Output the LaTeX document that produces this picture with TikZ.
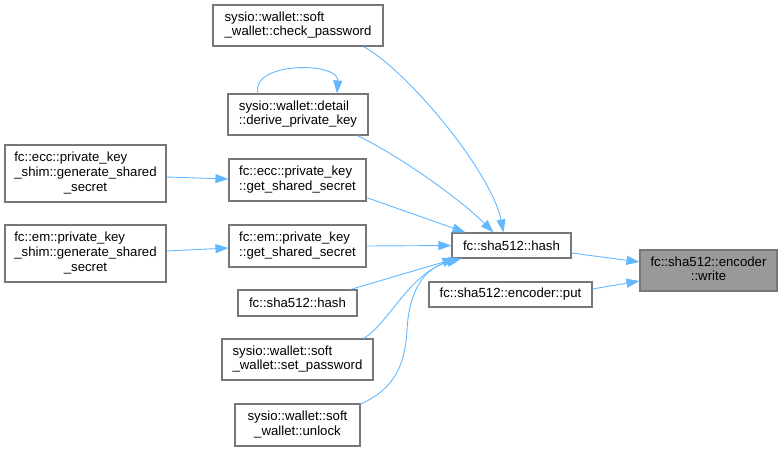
\documentclass[tikz,border=0pt]{standalone}
\usepackage{fontspec}
\setmainfont{Liberation Sans}
\usetikzlibrary{arrows.meta}
\definecolor{edgeblue}{HTML}{63B8FF}
\definecolor{boxborder}{HTML}{777777}
\definecolor{curfill}{HTML}{999999}
\newcommand{\twol}[2]{\begin{tabular}{@{}l@{}}#1\\\multicolumn{1}{@{}c@{}}{#2}\end{tabular}}
\newcommand{\threel}[3]{\begin{tabular}{@{}l@{}}#1\\#2\\\multicolumn{1}{@{}c@{}}{#3}\end{tabular}}
\begin{document}
\begin{tikzpicture}[x=1pt,y=-1pt,
  fnbox/.style={draw=boxborder,line width=1.1pt,fill=white,inner sep=0pt,
    font=\fontsize{13.2}{14.6}\selectfont},
  curbox/.style={fnbox,fill=curfill},
  edge/.style={draw=edgeblue,line width=0.9pt,-{Triangle[length=13pt,width=9pt]}}]
\useasboundingbox (0,0) rectangle (782,451);
% nodes
\node[fnbox,minimum width=170pt,minimum height=41pt] (check) at (298,25.5) {\twol{sysio::wallet::soft}{\_wallet::check\_password}};
\node[fnbox,minimum width=140pt,minimum height=41pt] (derive) at (298,114.5) {\twol{sysio::wallet::detail}{::derive\_private\_key}};
\node[fnbox,minimum width=137pt,minimum height=42pt] (eccget) at (297.5,180) {\twol{fc::ecc::private\_key}{::get\_shared\_secret}};
\node[fnbox,minimum width=137pt,minimum height=42pt] (emget) at (297.5,246) {\twol{fc::em::private\_key}{::get\_shared\_secret}};
\node[fnbox,minimum width=119pt,minimum height=26pt] (hashL) at (297.5,303) {fc::sha512::hash};
\node[fnbox,minimum width=151pt,minimum height=41pt] (setpw) at (297.5,359.5) {\twol{sysio::wallet::soft}{\_wallet::set\_password}};
\node[fnbox,minimum width=125pt,minimum height=42pt] (unlock) at (297.5,425) {\twol{sysio::wallet::soft}{\_wallet::unlock}};
\node[fnbox,minimum width=161pt,minimum height=57pt] (eccgen) at (85.5,173.5) {\threel{fc::ecc::private\_key}{\_shim::generate\_shared}{\_secret}};
\node[fnbox,minimum width=161pt,minimum height=57pt] (emgen) at (85.5,253.5) {\threel{fc::em::private\_key}{\_shim::generate\_shared}{\_secret}};
\node[fnbox,minimum width=119pt,minimum height=25pt] (hashC) at (511.5,245.5) {fc::sha512::hash};
\node[fnbox,minimum width=163pt,minimum height=25pt] (put) at (510.5,294.5) {fc::sha512::encoder::put};
\node[curbox,minimum width=137pt,minimum height=41pt] (write) at (708.5,270.5) {\twol{fc::sha512::encoder}{::write}};
% edges
\draw[edge] ([xshift=-20pt]check.south east) .. controls +(45,25) and +(-12,-60) .. ([xshift=-8pt]hashC.north);
\draw[edge] ([xshift=-11pt]derive.south east) .. controls +(50,25) and +(-30,-30) .. ([xshift=-18pt]hashC.north);
\draw[edge] ([yshift=4pt]eccget.south east) -- ([xshift=-46pt]hashC.north);
\draw[edge] (emget.east) -- (hashC.west);
\draw[edge] ([xshift=-7pt]hashL.north east) -- ([xshift=4pt]hashC.south west);
\draw[edge] ([xshift=-10pt]setpw.north east) .. controls +(25,-15) and +(-50,15) .. ([xshift=8pt]hashC.south west);
\draw[edge] ([xshift=-1pt,yshift=-1pt]unlock.north east) .. controls +(35,-15) and +(-2,35) .. (407,330) .. controls +(2,-40) and +(-37,9) .. ([xshift=10pt]hashC.south west);
\draw[edge] ([xshift=-40pt]derive.north) .. controls +(-8,-32) and +(2,-32) .. ([xshift=39pt]derive.north);
\draw[edge] ([yshift=-3.5pt]eccgen.east) -- ([yshift=1pt]eccget.west);
\draw[edge] ([yshift=2.5pt]emgen.east) -- ([yshift=-2pt]emget.west);
\draw[edge] ([yshift=-7.5pt]hashC.east) -- ([yshift=8.5pt]write.west);
\draw[edge] ([yshift=5.5pt]put.east) -- ([yshift=-10.5pt]write.west);
\end{tikzpicture}
\end{document}
